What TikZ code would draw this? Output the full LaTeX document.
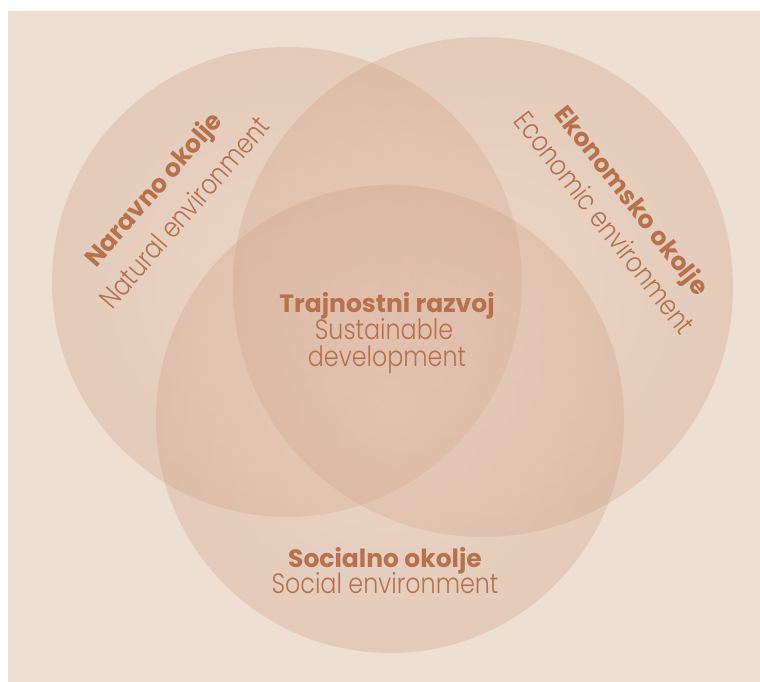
\documentclass[tikz,border=0pt]{standalone}
\usepackage{fontspec}
\setmainfont{Poppins}
\newfontfamily\lightfont{Poppins Light}[FakeStretch=0.85]

\definecolor{paper}{RGB}{237,223,210}
\definecolor{circin}{RGB}{228,194,174}
\definecolor{circmid}{RGB}{205,150,120}
\definecolor{circout}{RGB}{186,114,78}
\definecolor{labelbrown}{RGB}{182,114,76}

% soft glow towards the middle of each set, darker rim
\pgfdeclareradialshading{vennglow}{\pgfpoint{0bp}{0bp}}{%
  color(0bp)=(circin); color(30bp)=(circmid);
  color(46bp)=(circmid!70!circout); color(50bp)=(circout)}

\tikzset{
  venn/.style={shading=vennglow, opacity=0.3},
  title/.style={text=labelbrown, font=\bfseries\fontsize{25}{28}\selectfont,
    anchor=base, inner sep=0pt},
  subtitle/.style={text=labelbrown, font=\lightfont\fontsize{28}{30}\selectfont,
    anchor=base, inner sep=0pt},
}

\begin{document}
\begin{tikzpicture}[x=1pt,y=-1pt]
    \useasboundingbox (0,0) rectangle (760,682);
    \fill[white] (0,0) rectangle (760,682);
    \fill[paper] (8,11) rectangle (760,682);
    % the three sets
    \coordinate (nat) at (287,282);
    \coordinate (eco) at (483,287);
    \coordinate (soc) at (390,419);
    \shade[venn] (nat) circle[radius=235pt];
    \shade[venn] (eco) circle[radius=250pt];
    \shade[venn] (soc) circle[radius=234pt];
    % labels
    \node[title] (mid-si) at (387,312) {Trajnostni razvoj};
    \node[subtitle] (mid-en1) at (384,339) {Sustainable};
    \node[subtitle] (mid-en2) at (387,366) {development};
    \node[title] (soc-si) at (385,567) {Socialno okolje};
    \node[subtitle] (soc-en) at (385,593) {Social environment};
    \node[title, rotate=49] (nat-si) at (160,195) {Naravno okolje};
    \node[subtitle, rotate=49] (nat-en) at (192,219) {Natural environment};
    \node[title, rotate=-52] (eco-si) at (625,206) {Ekonomsko okolje};
    \node[subtitle, rotate=-52] (eco-en) at (597,229) {Economic environment};
  \end{tikzpicture}
\end{document}
